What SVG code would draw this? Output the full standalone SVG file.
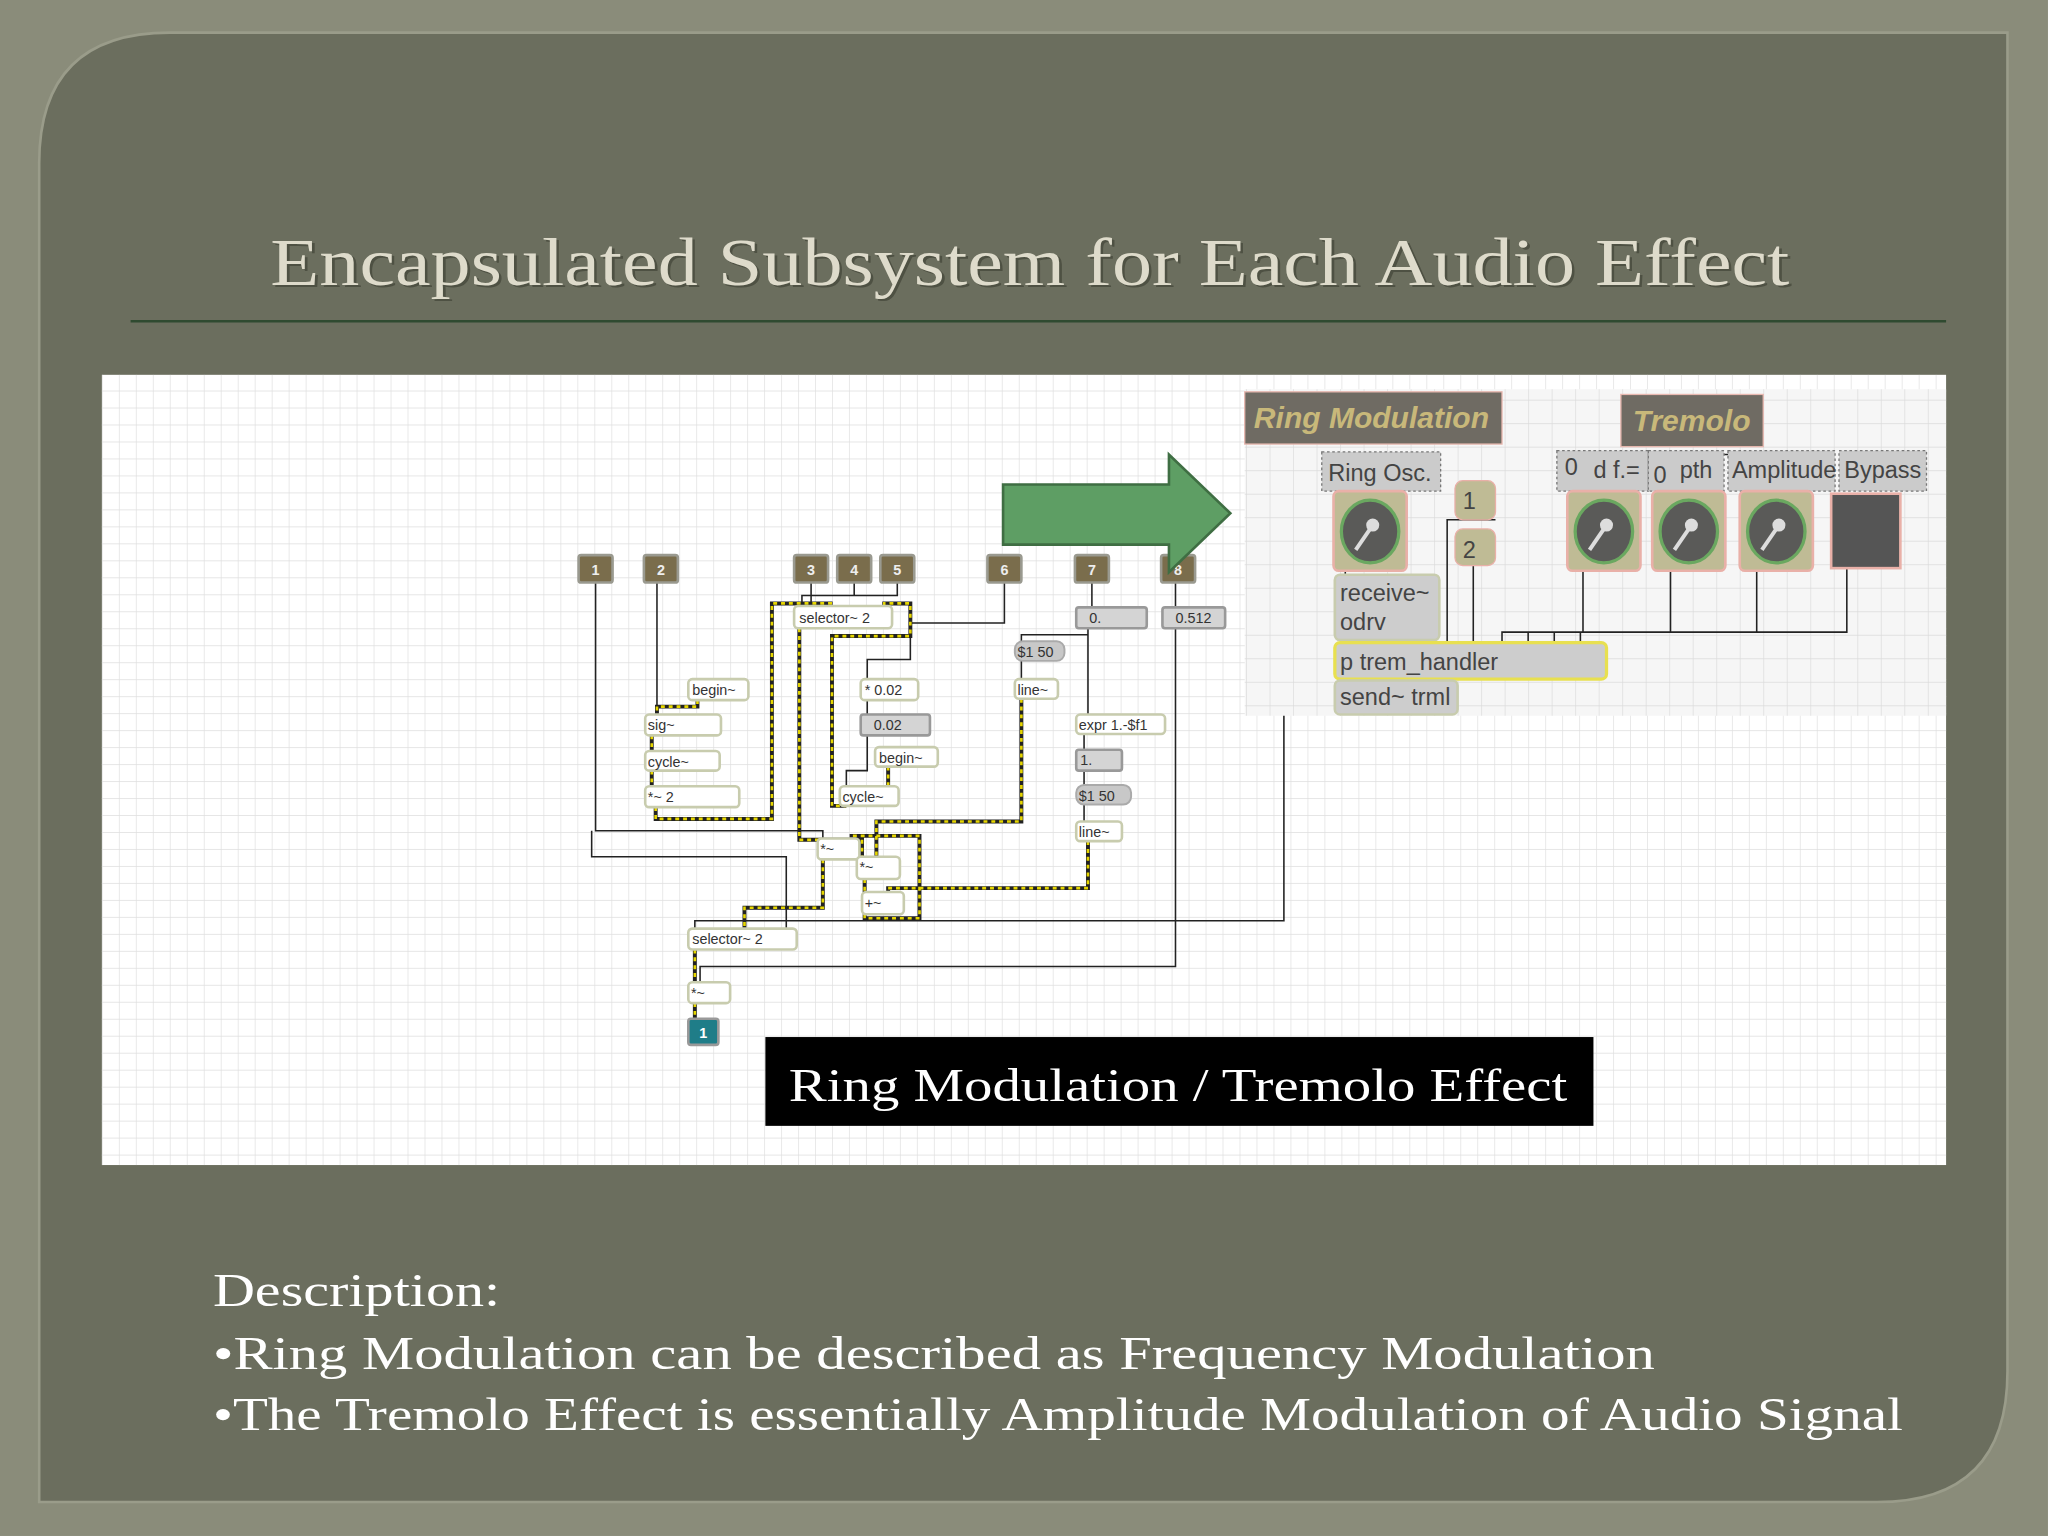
<svg xmlns="http://www.w3.org/2000/svg" width="2048" height="1536" viewBox="0 0 2048 1536">
<defs>
<pattern id="grid" width="13" height="13" patternUnits="userSpaceOnUse"><path d="M13 0H0V13" fill="none" stroke="#dedede" stroke-width="1"/></pattern>
<pattern id="grid2" width="18" height="18" patternUnits="userSpaceOnUse"><path d="M18 0H0V18" fill="none" stroke="#dadada" stroke-width="1"/></pattern>
<g id="knob"><rect x="0" y="0" width="56" height="61" rx="4" fill="#bfbb95" stroke="#e9b0a8" stroke-width="2"/><ellipse cx="28" cy="31" rx="22" ry="24" fill="#5a5a58" stroke="#6aa860" stroke-width="2.5"/><line x1="30" y1="26" x2="17" y2="45" stroke="#ddd" stroke-width="3"/><circle cx="30" cy="26" r="5" fill="#ddd"/></g>
</defs>
<style>
.obj{fill:#fff;stroke:#c8ccae;stroke-width:2}
.num{fill:#d4d4d4;stroke:#999;stroke-width:2}
.msg{fill:#c8c8c8;stroke:#aaa;stroke-width:1.5}
.t{font-family:"Liberation Sans",Arial,sans-serif;font-size:11px;fill:#333}
.in rect{fill:#7a6d4c;stroke:#9a9a90;stroke-width:2}
.in text{font-family:"Liberation Sans",Arial,sans-serif;font-size:11px;font-weight:bold;fill:#eee;text-anchor:middle}
.c{fill:none;stroke:#222;stroke-width:1.2}
.s1{fill:none;stroke:#222;stroke-width:3}
.s2{fill:none;stroke:#e6d600;stroke-width:2;stroke-dasharray:3 3}
.lab{fill:#cbcbcb;stroke:#777;stroke-width:1;stroke-dasharray:2 2}
.lt{font-family:"Liberation Sans",Arial,sans-serif;font-size:18px;fill:#444}
.ser{font-family:"Liberation Serif","Times New Roman",serif}
</style>
<g transform="scale(1.3061)">
<rect x="0" y="0" width="1568" height="1176" fill="#8a8c7a"/>
<path d="M130 25 H1537 V1050 Q1537 1150 1437 1150 H30 V125 Q30 25 130 25 Z" fill="#6b6e5e" stroke="#9a9c8a" stroke-width="2"/>
<text x="207" y="218" textLength="1163" lengthAdjust="spacingAndGlyphs" class="ser" font-size="52" fill="#3c3e32" opacity="0.6" transform="translate(2 2)">Encapsulated Subsystem for Each Audio Effect</text>
<text x="207" y="218" textLength="1163" lengthAdjust="spacingAndGlyphs" class="ser" font-size="52" fill="#dedbcb">Encapsulated Subsystem for Each Audio Effect</text>
<line x1="100" y1="246" x2="1490" y2="246" stroke="#2f4a30" stroke-width="2"/>
<rect x="78" y="287" width="1412" height="605" fill="#fff"/>
<rect x="78" y="287" width="1412" height="605" fill="url(#grid)"/>
<rect x="953" y="298" width="537" height="250" fill="#f6f6f6"/>
<rect x="953" y="298" width="537" height="250" fill="url(#grid2)"/>

<g id="connectors">
<path class="c" d="M456 446V636H630V642M453 636V656H602V711"/>
<path class="c" d="M503 446V547"/>
<path class="c" d="M621 446V464M654 446V456H614V464M687 446V456H654"/>
<path class="c" d="M769 446V477H697V505H664V520M664 536V547M664 563V590H648V602"/>
<path class="c" d="M836 446V465M833 481V547M833 486H782V491M782 506V520M830 562V574M830 590V601M830 616V629"/>
<path class="c" d="M900 446V465M900 481V740H536V752"/>
<path class="c" d="M983 548V705H532V711"/>
<path class="s1" d="M534 536V541H503V547M499 563V575M499 590V602M502 618V627H591V462H636V464M677 464V462H697V487H637V617H648M612 481V643H660V656M680 587V602M782 535V629H671V656M630 658V695H570V711M662 673V683M833 644V680H680V683M662 700V703H704V640H652V642M532 727V752M532 768V780"/>
<path class="s2" d="M534 536V541H503V547M499 563V575M499 590V602M502 618V627H591V462H636V464M677 464V462H697V487H637V617H648M612 481V643H660V656M680 587V602M782 535V629H671V656M630 658V695H570V711M662 673V683M833 644V680H680V683M662 700V703H704V640H652V642M532 727V752M532 768V780"/>
<path class="c" d="M1030 437V462H1058V492M1145 398H1108V492M1128 433V492M1212 437V484H1150V492M1279 437V484M1345 437V484M1414 435V484H1212M1170 484V492M1190 484V492M1210 484V492"/>
<path class="c" d="M1200 348H1330" stroke-width="2.5"/>
</g>

<g id="inlets" class="in">
<g id="in1"><rect x="443" y="425" width="26" height="21" rx="2"/><text x="456" y="440">1</text></g>
<g id="in2"><rect x="493" y="425" width="26" height="21" rx="2"/><text x="506" y="440">2</text></g>
<g id="in3"><rect x="608" y="425" width="26" height="21" rx="2"/><text x="621" y="440">3</text></g>
<g id="in4"><rect x="641" y="425" width="26" height="21" rx="2"/><text x="654" y="440">4</text></g>
<g id="in5"><rect x="674" y="425" width="26" height="21" rx="2"/><text x="687" y="440">5</text></g>
<g id="in6"><rect x="756" y="425" width="26" height="21" rx="2"/><text x="769" y="440">6</text></g>
<g id="in7"><rect x="823" y="425" width="26" height="21" rx="2"/><text x="836" y="440">7</text></g>
<g id="in8"><rect x="889" y="425" width="26" height="21" rx="2"/><text x="902" y="440">8</text></g>
</g>

<g id="sel1"><rect class="obj" x="608" y="464" width="75" height="17" rx="3"/><text class="t" x="612" y="477">selector~ 2</text></g>
<g id="n0"><rect class="num" x="824" y="465" width="54" height="16" rx="2"/><text class="t" x="834" y="477">0.</text></g>
<g id="n512"><rect class="num" x="890" y="465" width="48" height="16" rx="2"/><text class="t" x="900" y="477">0.512</text></g>
<g id="m150a"><rect class="msg" x="777" y="491" width="38" height="15" rx="6"/><text class="t" x="779" y="503">$1 50</text></g>
<g id="line1"><rect class="obj" x="777" y="520" width="33" height="15" rx="3"/><text class="t" x="779" y="532">line~</text></g>
<g id="mul002"><rect class="obj" x="659" y="520" width="44" height="16" rx="3"/><text class="t" x="662" y="532">* 0.02</text></g>
<g id="n002"><rect class="num" x="659" y="547" width="53" height="16" rx="2"/><text class="t" x="669" y="559">0.02</text></g>
<g id="begin1"><rect class="obj" x="527" y="520" width="46" height="16" rx="3"/><text class="t" x="530" y="532">begin~</text></g>
<g id="sig"><rect class="obj" x="494" y="547" width="58" height="16" rx="3"/><text class="t" x="496" y="559">sig~</text></g>
<g id="cyc1"><rect class="obj" x="494" y="575" width="57" height="15" rx="3"/><text class="t" x="496" y="587">cycle~</text></g>
<g id="mul2"><rect class="obj" x="494" y="602" width="72" height="16" rx="3"/><text class="t" x="496" y="614">*~ 2</text></g>
<g id="begin2"><rect class="obj" x="670" y="572" width="48" height="15" rx="3"/><text class="t" x="673" y="584">begin~</text></g>
<g id="cyc2"><rect class="obj" x="643" y="602" width="45" height="15" rx="3"/><text class="t" x="645" y="614">cycle~</text></g>
<g id="expr"><rect class="obj" x="824" y="547" width="68" height="15" rx="3"/><text class="t" x="826" y="559">expr 1.-$f1</text></g>
<g id="n1"><rect class="num" x="824" y="574" width="35" height="16" rx="2"/><text class="t" x="827" y="586">1.</text></g>
<g id="m150b"><rect class="msg" x="824" y="601" width="42" height="15" rx="6"/><text class="t" x="826" y="613">$1 50</text></g>
<g id="line2"><rect class="obj" x="824" y="629" width="35" height="15" rx="3"/><text class="t" x="826" y="641">line~</text></g>
<g id="mulA"><rect class="obj" x="626" y="642" width="32" height="16" rx="3"/><text class="t" x="628" y="654">*~</text></g>
<g id="mulB"><rect class="obj" x="656" y="656" width="33" height="17" rx="3"/><text class="t" x="658" y="668">*~</text></g>
<g id="plus"><rect class="obj" x="660" y="683" width="32" height="17" rx="3"/><text class="t" x="662" y="695">+~</text></g>
<g id="sel2"><rect class="obj" x="527" y="711" width="83" height="16" rx="3"/><text class="t" x="530" y="723">selector~ 2</text></g>
<g id="mulC"><rect class="obj" x="527" y="752" width="32" height="16" rx="3"/><text class="t" x="529" y="764">*~</text></g>
<g id="out1"><rect x="527" y="780" width="23" height="20" rx="2" fill="#1f7d88" stroke="#999" stroke-width="2"/><text x="538.5" y="795" text-anchor="middle" font-family="Liberation Sans,sans-serif" font-size="11" font-weight="bold" fill="#fff">1</text></g>

<g id="arrow"><path d="M768 371H895V348L942 393L895 438V417H768Z" fill="#5e9e64" stroke="#3f6e43" stroke-width="2"/></g>

<g id="ringlabel"><rect x="953" y="300" width="197" height="40" fill="#6f6b63" stroke="#e8b8b0" stroke-width="1"/><text x="960" y="328" font-family="Liberation Sans,Arial,sans-serif" font-size="23" font-style="italic" font-weight="bold" fill="#c8b87a">Ring Modulation</text></g>
<g id="tremlabel"><rect x="1241" y="302" width="109" height="40" fill="#6f6b63" stroke="#e8b8b0" stroke-width="1"/><text x="1250" y="330" font-family="Liberation Sans,Arial,sans-serif" font-size="23" font-style="italic" font-weight="bold" fill="#c8b87a">Tremolo</text></g>
<g id="ringosc"><rect class="lab" x="1012" y="346" width="91" height="30"/><text class="lt" x="1017" y="368">Ring Osc.</text></g>
<g id="knobRing"><use href="#knob" x="1021" y="376"/></g>
<g id="m1"><rect x="1114" y="368" width="31" height="30" rx="6" fill="#bfbb95" stroke="#e9b0a8"/><text class="lt" x="1120" y="390">1</text></g>
<g id="m2"><rect x="1114" y="405" width="31" height="28" rx="6" fill="#bfbb95" stroke="#e9b0a8"/><text class="lt" x="1120" y="427">2</text></g>
<g id="recv"><rect x="1022" y="440" width="80" height="50" rx="4" fill="#cdcdcd" stroke="#c8ccae" stroke-width="2"/><text class="lt" x="1026" y="460">receive~</text><text class="lt" x="1026" y="482">odrv</text></g>
<g id="lab1"><rect class="lab" x="1192" y="345" width="70" height="31"/><text class="lt" x="1198" y="364">0</text><text class="lt" x="1220" y="366">d f.=</text></g>
<g id="lab2"><rect class="lab" x="1262" y="345" width="58" height="31"/><text class="lt" x="1266" y="370">0</text><text class="lt" x="1286" y="366">pth</text></g>
<g id="lab3"><rect class="lab" x="1323" y="345" width="82" height="31"/><text class="lt" x="1326" y="366">Amplitude</text></g>
<g id="lab4"><rect class="lab" x="1408" y="345" width="67" height="31"/><text class="lt" x="1412" y="366">Bypass</text></g>
<g id="k1"><use href="#knob" x="1200" y="376"/></g>
<g id="k2"><use href="#knob" x="1265" y="376"/></g>
<g id="k3"><use href="#knob" x="1332" y="376"/></g>
<g id="bypass"><rect x="1402" y="378" width="53" height="57" fill="#555" stroke="#e9b0a8" stroke-width="2"/></g>
<g id="trem"><rect x="1022" y="492" width="208" height="28" rx="4" fill="#cdcdcd" stroke="#e8e050" stroke-width="2.5"/><text class="lt" x="1026" y="513">p trem_handler</text></g>
<g id="send"><rect x="1022" y="521" width="94" height="26" rx="4" fill="#cdcdcd" stroke="#c8ccae" stroke-width="2"/><text class="lt" x="1026" y="540">send~ trml</text></g>

<g id="caption"><rect x="586" y="794" width="634" height="68" fill="#000"/><text x="604" y="843" textLength="596" lengthAdjust="spacingAndGlyphs" class="ser" font-size="36" fill="#fff">Ring Modulation / Tremolo Effect</text></g>

<g class="ser" font-size="36" fill="#ffffff">
<text x="163" y="1000" textLength="220" lengthAdjust="spacingAndGlyphs">Description:</text>
<text x="163" y="1048" textLength="1104" lengthAdjust="spacingAndGlyphs">•Ring Modulation can be described as Frequency Modulation</text>
<text x="163" y="1095" textLength="1294" lengthAdjust="spacingAndGlyphs">•The Tremolo Effect is essentially Amplitude Modulation of Audio Signal</text>
</g>
</g>
</svg>
